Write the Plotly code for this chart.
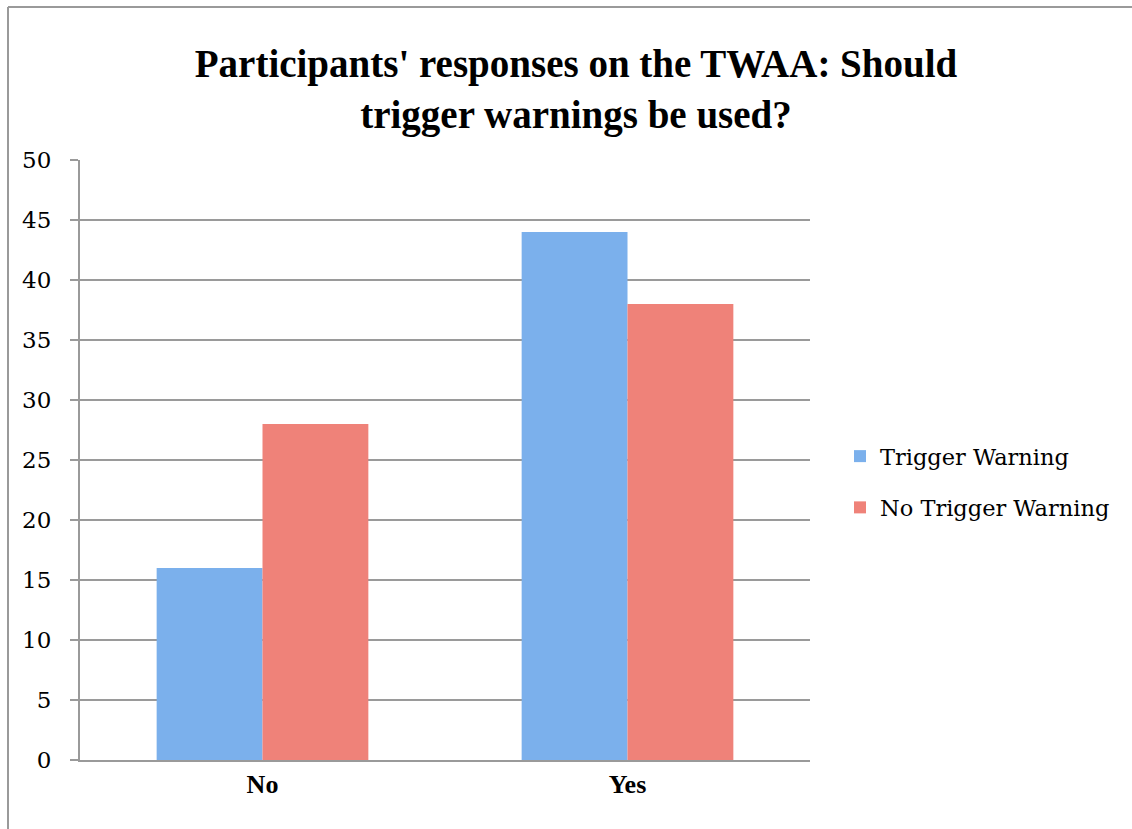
import plotly.graph_objects as go

categories = ["No", "Yes"]
trigger_warning = [16, 44]
no_trigger_warning = [28, 38]
series_names = ["Trigger Warning", "No Trigger Warning"]
y_ticks = [0, 5, 10, 15, 20, 25, 30, 35, 40, 45, 50]

W, H = 1132, 829
L, R, T, B = 80, 322, 160, 69
pw, ph = W - L - R, H - T - B


def px_x(x):
    return (x - L) / pw


def px_y(y):
    return (H - B - y) / ph


fig = go.Figure()
fig.add_trace(go.Bar(x=categories, y=trigger_warning, name=series_names[0],
                     marker=dict(color="#7bb0ec", line=dict(width=0)), legendgroup="a"))
fig.add_trace(go.Bar(x=categories, y=no_trigger_warning, name=series_names[1],
                     marker=dict(color="#ef8279", line=dict(width=0)), legendgroup="b"))

serif = "DejaVu Serif"
title_font = "'Liberation Serif', serif"
fig.update_layout(
    width=W, height=H,
    margin=dict(l=L, r=R, t=T, b=B),
    paper_bgcolor="white", plot_bgcolor="white",
    barmode="group", bargap=0.42, bargroupgap=0,
    font=dict(family=serif, color="black", size=22),
    title=dict(text="<b>Participants' responses on the TWAA: Should<br>trigger warnings be used?</b>",
               x=576 / W, xanchor="center", xref="container",
               y=1 - 77 / H, yanchor="middle", yref="container",
               font=dict(family=title_font, size=39, color="black")),
    xaxis=dict(showgrid=False, showline=True, linecolor="#9a9a9a", linewidth=2,
               ticks="", tickfont=dict(family=title_font, size=26, color="black"),
               tickvals=categories, ticktext=[f"<b>{c}</b>" for c in categories],
               ticklabelstandoff=0),
    yaxis=dict(range=[0, 50], tickvals=y_ticks, showgrid=True, gridcolor="#9a9a9a", gridwidth=1.5,
               showline=True, linecolor="#9a9a9a", linewidth=2, ticks="outside", ticklen=8,
               tickcolor="#9a9a9a", tickwidth=1.5, zeroline=False,
               tickfont=dict(family=serif, size=23, color="black"), ticklabelstandoff=14),
    legend=dict(x=px_x(840), xanchor="left", y=px_y(482), yanchor="middle",
                font=dict(family=serif, size=22.5, color="black"),
                tracegroupgap=19, itemwidth=30, bgcolor="rgba(0,0,0,0)"),
    shapes=[
        dict(type="line", xref="paper", yref="paper",
             x0=px_x(8), x1=px_x(8), y0=px_y(7), y1=px_y(H),
             line=dict(color="#9a9a9a", width=2)),
        dict(type="line", xref="paper", yref="paper",
             x0=px_x(8), x1=px_x(W), y0=px_y(7), y1=px_y(7),
             line=dict(color="#9a9a9a", width=2)),
    ],
)

fig.write_html("out.html")
